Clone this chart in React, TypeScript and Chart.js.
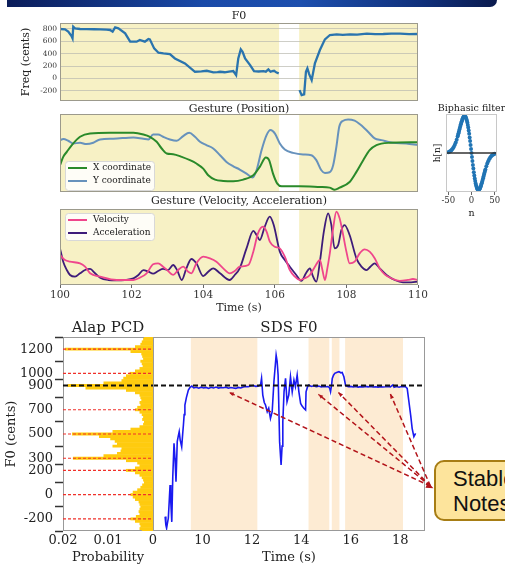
import React, { useEffect, useRef } from 'react';
import { Chart, registerables } from 'chart.js';
Chart.register(...registerables);

const SERIF = '"DejaVu Serif", "Liberation Serif", serif';
const SANS = '"Liberation Sans", Arial, sans-serif';
Chart.defaults.font.family = SERIF;
Chart.defaults.color = '#222';

type Pair = [number, number | null];

// ---------- Top figure: F0 (cents) over time ----------
const f0Top: Pair[] = [
  [100.00, 800], [100.14, 795], [100.23, 757], [100.30, 703], [100.33, 676], [100.35, 650], [100.37, 838],
  [100.42, 811], [100.56, 800], [100.75, 798], [100.95, 796], [101.12, 795], [101.30, 790], [101.40, 784],
  [101.47, 757], [101.54, 827], [101.63, 811], [101.82, 730], [101.96, 595], [102.14, 595], [102.23, 622],
  [102.37, 595], [102.47, 638], [102.51, 632], [102.63, 486], [102.75, 416], [102.89, 405], [103.07, 395],
  [103.21, 324], [103.49, 243], [103.77, 108], [103.95, 115], [104.10, 124], [104.20, 110], [104.28, 97],
  [104.40, 102], [104.47, 108], [104.60, 100], [104.72, 112], [104.84, 119], [104.92, 54], [104.98, 324],
  [105.05, 470], [105.10, 432], [105.17, 324], [105.31, 216], [105.42, 119], [105.55, 112], [105.68, 119],
  [105.75, 110], [105.82, 146], [105.88, 108], [105.93, 118], [105.98, 124], [106.05, 95], [106.11, 81],
  [106.40, null],
  [106.69, -189], [106.75, -270], [106.82, -259], [106.87, 108], [106.91, 162], [106.96, 70], [107.03, -27],
  [107.12, 243], [107.26, 459], [107.40, 632], [107.54, 703], [107.73, 714], [107.90, 706], [108.10, 714],
  [108.30, 710], [108.57, 724], [108.80, 716], [109.03, 719], [109.25, 726], [109.50, 724], [109.75, 716],
  [110.00, 719],
];
const f0TopTicks = [-200, 0, 200, 400, 600, 800];
const unvoicedGap = [106.12, 106.68];
const timeTicksTop = [100, 102, 104, 106, 108, 110];

// ---------- Gesture position (normalised) ----------
const xCoordinate: Pair[] = [
  [100.00, 0.343], [100.09, 0.451], [100.19, 0.515], [100.33, 0.601], [100.56, 0.708], [100.84, 0.751],
  [101.40, 0.760], [102.05, 0.760], [102.33, 0.738], [102.51, 0.708], [102.70, 0.644], [102.84, 0.558],
  [102.98, 0.494], [103.16, 0.485], [103.40, 0.451], [103.63, 0.408], [103.81, 0.365], [104.00, 0.300],
  [104.14, 0.215], [104.33, 0.159], [104.56, 0.142], [104.84, 0.137], [105.12, 0.159], [105.40, 0.215],
  [105.58, 0.322], [105.75, 0.442], [105.84, 0.408], [105.95, 0.236], [106.07, 0.107], [106.19, 0.073],
  [106.70, 0.073], [107.26, 0.064], [107.53, 0.056], [107.67, 0.030], [107.81, 0.056], [108.09, 0.129],
  [108.28, 0.258], [108.47, 0.408], [108.65, 0.536], [108.84, 0.601], [109.21, 0.631], [110.00, 0.639],
];
const yCoordinate: Pair[] = [
  [100.00, 0.665], [100.09, 0.678], [100.23, 0.657], [100.37, 0.622], [100.56, 0.631], [100.74, 0.614],
  [100.93, 0.631], [101.12, 0.674], [101.49, 0.682], [102.05, 0.700], [102.33, 0.682], [102.47, 0.674],
  [102.60, 0.738], [102.74, 0.738], [102.88, 0.708], [103.07, 0.674], [103.26, 0.657], [103.44, 0.717],
  [103.61, 0.760], [103.77, 0.708], [103.91, 0.644], [104.09, 0.601], [104.28, 0.558], [104.47, 0.472],
  [104.65, 0.386], [104.84, 0.330], [105.02, 0.288], [105.21, 0.236], [105.38, 0.185], [105.49, 0.279],
  [105.63, 0.536], [105.77, 0.730], [105.88, 0.794], [106.00, 0.751], [106.14, 0.622], [106.28, 0.545],
  [106.51, 0.502], [106.79, 0.481], [107.02, 0.472], [107.16, 0.408], [107.30, 0.279], [107.40, 0.245],
  [107.53, 0.253], [107.63, 0.343], [107.72, 0.579], [107.80, 0.837], [107.91, 0.914], [108.05, 0.931],
  [108.23, 0.914], [108.37, 0.871], [108.51, 0.815], [108.65, 0.751], [108.79, 0.687], [108.98, 0.665],
  [109.30, 0.631], [109.67, 0.622], [110.00, 0.601],
];

// ---------- Gesture velocity / acceleration (normalised) ----------
const velocity: Pair[] = [
  [100.00, 0.395], [100.14, 0.329], [100.28, 0.307], [100.56, 0.285], [100.70, 0.241], [100.84, 0.154],
  [101.12, 0.110], [101.58, 0.066], [102.05, 0.066], [102.23, 0.096], [102.42, 0.154], [102.60, 0.272],
  [102.74, 0.285], [102.88, 0.241], [103.02, 0.184], [103.16, 0.132], [103.30, 0.197], [103.44, 0.241],
  [103.58, 0.175], [103.67, 0.154], [103.81, 0.285], [104.00, 0.373], [104.19, 0.351], [104.37, 0.307],
  [104.56, 0.219], [104.74, 0.154], [104.88, 0.184], [105.02, 0.241], [105.26, 0.263], [105.40, 0.439],
  [105.53, 0.680], [105.67, 0.768], [105.77, 0.702], [105.86, 0.570], [106.00, 0.504], [106.14, 0.482],
  [106.28, 0.373], [106.42, 0.197], [106.56, 0.110], [106.70, 0.066], [106.84, 0.088], [106.98, 0.132],
  [107.12, 0.241], [107.26, 0.329], [107.33, 0.197], [107.40, 0.066], [107.46, 0.197], [107.53, 0.395],
  [107.63, 0.746], [107.72, 0.965], [107.81, 0.877], [107.91, 0.658], [108.00, 0.439], [108.09, 0.285],
  [108.23, 0.307], [108.37, 0.417], [108.51, 0.469], [108.65, 0.439], [108.79, 0.351], [108.93, 0.219],
  [109.07, 0.140], [109.26, 0.088], [109.49, 0.053], [109.72, 0.066], [109.86, 0.079], [110.00, 0.066],
];
const acceleration: Pair[] = [
  [100.00, 0.482], [100.09, 0.307], [100.19, 0.197], [100.28, 0.132], [100.42, 0.110], [100.56, 0.154],
  [100.70, 0.197], [100.84, 0.211], [100.98, 0.154], [101.12, 0.096], [101.35, 0.066], [101.58, 0.061],
  [101.81, 0.066], [102.05, 0.088], [102.19, 0.132], [102.33, 0.197], [102.47, 0.175], [102.60, 0.149],
  [102.74, 0.184], [102.88, 0.211], [103.02, 0.197], [103.16, 0.263], [103.27, 0.197], [103.40, 0.066],
  [103.53, 0.219], [103.67, 0.342], [103.81, 0.285], [104.00, 0.118], [104.14, 0.175], [104.28, 0.219],
  [104.47, 0.154], [104.74, 0.066], [104.88, 0.132], [105.02, 0.219], [105.21, 0.482], [105.40, 0.711],
  [105.49, 0.658], [105.58, 0.592], [105.72, 0.768], [105.86, 0.899], [105.97, 0.789], [106.14, 0.439],
  [106.28, 0.329], [106.42, 0.241], [106.60, 0.132], [106.74, 0.053], [106.87, 0.154], [106.98, 0.219],
  [107.07, 0.110], [107.16, 0.044], [107.26, 0.307], [107.37, 0.702], [107.49, 0.943], [107.58, 0.789],
  [107.67, 0.482], [107.77, 0.526], [107.86, 0.724], [107.95, 0.789], [108.09, 0.658], [108.28, 0.351],
  [108.42, 0.241], [108.56, 0.197], [108.67, 0.241], [108.79, 0.285], [108.93, 0.219], [109.12, 0.132],
  [109.35, 0.066], [109.58, 0.035], [109.81, 0.035], [110.00, 0.044],
];

// ---------- Biphasic filter taps ----------
const filterTaps: Pair[] = [
  [-50, 0.021], [-48, 0.032], [-46, 0.046], [-44, 0.065], [-42, 0.092], [-40, 0.126], [-38, 0.169],
  [-36, 0.222], [-34, 0.286], [-32, 0.361], [-30, 0.446], [-29, 0.492], [-28, 0.539], [-27, 0.587],
  [-26, 0.636], [-25, 0.685], [-24, 0.733], [-23, 0.781], [-22, 0.825], [-21, 0.866], [-20, 0.904],
  [-19, 0.936], [-18, 0.963], [-17, 0.983], [-16, 0.996], [-15, 1.0], [-14, 0.995], [-13, 0.982],
  [-12, 0.958], [-11, 0.924], [-10, 0.880], [-9, 0.826], [-8, 0.763], [-7, 0.690], [-6, 0.609],
  [-5, 0.520], [-4, 0.424], [-3, 0.323], [-2, 0.218], [-1, 0.110], [0, 0],
  [1, -0.110], [2, -0.218], [3, -0.323], [4, -0.424], [5, -0.520], [6, -0.609], [7, -0.690], [8, -0.763],
  [9, -0.826], [10, -0.880], [11, -0.924], [12, -0.958], [13, -0.982], [14, -0.995], [15, -1.0],
  [16, -0.996], [17, -0.983], [18, -0.963], [19, -0.936], [20, -0.904], [21, -0.866], [22, -0.825],
  [23, -0.781], [24, -0.733], [25, -0.685], [26, -0.636], [27, -0.587], [28, -0.539], [29, -0.492],
  [30, -0.446], [32, -0.361], [34, -0.286], [36, -0.222], [38, -0.169], [40, -0.126], [42, -0.092],
  [44, -0.065], [46, -0.046], [48, -0.032], [50, -0.021],
];
const filterTicks = [-50, 0, 50];

// ---------- Alap pitch-class distribution (cents, probability) ----------
const pcd: Pair[] = [
  [1300, 0.0020], [1280, 0.0022], [1260, 0.0025], [1240, 0.0028], [1220, 0.0040], [1200, 0.0196],
  [1180, 0.0050], [1160, 0.0026], [1140, 0.0024], [1120, 0.0022], [1100, 0.0028], [1080, 0.0025],
  [1060, 0.0023], [1040, 0.0030], [1020, 0.0040], [1000, 0.0052], [980, 0.0060], [960, 0.0066],
  [940, 0.0070], [920, 0.0110], [900, 0.0190], [880, 0.0150], [860, 0.0060], [840, 0.0040],
  [820, 0.0030], [800, 0.0028], [780, 0.0026], [760, 0.0030], [740, 0.0028], [720, 0.0035],
  [700, 0.0040], [680, 0.0030], [660, 0.0025], [640, 0.0022], [620, 0.0024], [600, 0.0020],
  [580, 0.0022], [560, 0.0030], [540, 0.0050], [520, 0.0090], [500, 0.0180], [480, 0.0120],
  [460, 0.0095], [440, 0.0085], [420, 0.0080], [400, 0.0090], [380, 0.0070], [360, 0.0072],
  [340, 0.0080], [320, 0.0110], [300, 0.0178], [280, 0.0060], [260, 0.0035], [240, 0.0030],
  [220, 0.0040], [200, 0.0060], [180, 0.0040], [160, 0.0030], [140, 0.0025], [120, 0.0022],
  [100, 0.0020], [80, 0.0024], [60, 0.0028], [40, 0.0035], [20, 0.0045], [0, 0.0050],
  [-20, 0.0045], [-40, 0.0040], [-60, 0.0032], [-80, 0.0030], [-100, 0.0028], [-120, 0.0030],
  [-140, 0.0032], [-160, 0.0030], [-180, 0.0038], [-200, 0.0050], [-220, 0.0040], [-240, 0.0030],
  [-260, 0.0028], [-280, 0.0030], [-300, 0.0025],
];
const pcdTicks = [-200, 0, 200, 300, 500, 700, 900, 1000, 1200];
const probTicks = [0.02, 0.01, 0];
const noteLines = [1200, 1000, 700, 500, 300, 200, 0, -200];
const tonicLine = 900;

// ---------- SDS F0 contour (seconds, cents) ----------
const sdsF0: Pair[] = [
  [8.49, -181], [8.52, -250], [8.55, -277], [8.58, -240], [8.62, -195], [8.66, -40], [8.69, 80], [8.72, -60],
  [8.76, -225], [8.80, 150], [8.85, 423], [8.89, 300], [8.93, 107], [8.96, 300], [8.98, 437], [9.02, 480],
  [9.06, 519], [9.10, 450], [9.16, 395], [9.20, 500], [9.23, 574], [9.26, 660], [9.29, 739], [9.35, 800],
  [9.43, 862], [9.50, 885], [9.57, 895], [9.65, 880], [9.75, 885], [9.85, 878], [9.95, 886], [10.05, 880],
  [10.15, 884], [10.25, 876], [10.35, 885], [10.45, 880], [10.55, 887], [10.65, 879], [10.75, 884],
  [10.85, 881], [10.95, 886], [11.05, 878], [11.15, 883], [11.25, 880], [11.35, 876], [11.45, 884],
  [11.55, 880], [11.65, 888], [11.75, 892], [11.85, 890], [11.95, 896], [12.05, 900], [12.15, 893],
  [12.25, 895], [12.30, 900], [12.35, 905], [12.39, 959], [12.44, 821], [12.50, 760], [12.55, 739],
  [12.62, 684], [12.68, 712], [12.75, 629], [12.82, 684], [12.89, 931], [12.98, 1151], [13.02, 1100],
  [13.06, 986], [13.12, 437], [13.18, 244], [13.22, 400], [13.25, 601], [13.30, 850], [13.36, 959],
  [13.42, 766], [13.49, 821], [13.56, 972], [13.63, 848], [13.70, 945], [13.76, 890], [13.83, 986],
  [13.90, 848], [13.97, 752], [14.03, 730], [14.10, 712], [14.17, 698], [14.19, 848], [14.25, 890],
  [14.30, 904], [14.40, 892], [14.50, 898], [14.60, 890], [14.70, 895], [14.80, 888], [14.90, 893],
  [15.00, 890], [15.08, 892], [15.14, 880], [15.18, 848], [15.22, 900], [15.25, 959], [15.30, 985],
  [15.35, 1000], [15.45, 1010], [15.52, 1014], [15.60, 1005], [15.65, 1008], [15.72, 972], [15.79, 898],
  [15.90, 890], [16.00, 893], [16.10, 888], [16.20, 892], [16.30, 887], [16.40, 891], [16.50, 888],
  [16.60, 893], [16.70, 889], [16.80, 892], [16.90, 888], [17.00, 890], [17.10, 887], [17.20, 891],
  [17.30, 888], [17.40, 890], [17.50, 893], [17.60, 888], [17.70, 905], [17.75, 885], [17.85, 892],
  [17.95, 886], [18.05, 892], [18.15, 890], [18.21, 890], [18.28, 876], [18.35, 766], [18.42, 656],
  [18.48, 547], [18.55, 478], [18.62, 505],
];
const sdsTicks = [10, 12, 14, 16, 18];
const stableRegions = [[9.53, 12.22], [14.29, 15.13], [15.23, 15.54], [15.77, 18.11]];
const arrowTargets = [[11.08, 843], [14.69, 827], [15.50, 843], [17.60, 830]];
const arrowTail = [19.22, 70];
const stableLabel = ['Stable', 'Notes'];

const pts = (arr: Pair[]) => arr.map(([x, y]) => ({ x, y }));
const fixedTicks = (vals: number[]) => (s: any) => { s.ticks = vals.map((v) => ({ value: v })); };
const plain = (v: any) => String(v);

function deco(cfg: any) {
  return {
    id: 'deco',
    beforeDraw(chart: any) {
      const { ctx, chartArea: a, scales } = chart;
      ctx.save();
      if (cfg.bg) {
        ctx.fillStyle = cfg.bg;
        ctx.fillRect(a.left, a.top, a.right - a.left, a.bottom - a.top);
      }
      (cfg.bands || []).forEach((b: number[]) => {
        const x0 = scales.x.getPixelForValue(b[0]);
        const x1 = scales.x.getPixelForValue(b[1]);
        ctx.fillStyle = cfg.bandColor;
        ctx.fillRect(x0, a.top, x1 - x0, a.bottom - a.top);
      });
      if (cfg.frame && cfg.frameBelow) {
        ctx.strokeStyle = cfg.frame;
        ctx.lineWidth = 1;
        ctx.strokeRect(a.left + 0.5, a.top + 0.5, a.right - a.left - 1, a.bottom - a.top - 1);
      }
      ctx.restore();
    },
    afterDatasetsDraw(chart: any) {
      const { ctx, chartArea: a, scales } = chart;
      ctx.save();
      (cfg.hlines || []).forEach((h: any) => {
        const y = scales.y.getPixelForValue(h.value);
        ctx.strokeStyle = h.color;
        ctx.lineWidth = h.width;
        ctx.setLineDash(h.dash || []);
        ctx.beginPath();
        ctx.moveTo(a.left, y);
        ctx.lineTo(a.right, y);
        ctx.stroke();
      });
      ctx.setLineDash([]);
      if (cfg.frame && !cfg.frameBelow) {
        ctx.strokeStyle = cfg.frame;
        ctx.lineWidth = 1;
        ctx.strokeRect(a.left + 0.5, a.top + 0.5, a.right - a.left - 1, a.bottom - a.top - 1);
      }
      if (cfg.legend) {
        const L = cfg.legend;
        const x0 = a.left + L.x;
        const y0 = a.top + L.y;
        ctx.fillStyle = 'rgba(255,255,255,0.85)';
        ctx.strokeStyle = '#d8d8d8';
        ctx.lineWidth = 1;
        ctx.beginPath();
        ctx.roundRect(x0 + 0.5, y0 + 0.5, L.w, L.h, 3);
        ctx.fill();
        ctx.stroke();
        chart.data.datasets.forEach((ds: any, i: number) => {
          const yy = a.top + L.rows[i];
          ctx.strokeStyle = ds.borderColor;
          ctx.lineWidth = 2;
          ctx.beginPath();
          ctx.moveTo(x0 + 3, yy);
          ctx.lineTo(x0 + 22, yy);
          ctx.stroke();
          ctx.fillStyle = '#222';
          ctx.font = L.font;
          ctx.textAlign = 'left';
          ctx.textBaseline = 'middle';
          ctx.fillText(ds.label, x0 + 28, yy);
        });
      }
      if (cfg.title) {
        const T = cfg.title;
        ctx.fillStyle = '#222';
        ctx.font = T.font;
        ctx.textAlign = 'center';
        ctx.textBaseline = 'middle';
        ctx.fillText(T.text, (a.left + a.right) / 2 + (T.dx || 0), a.top + T.dy);
      }
      if (cfg.ylabel) {
        const Y = cfg.ylabel;
        ctx.translate(a.left + Y.dx, (a.top + a.bottom) / 2);
        ctx.rotate(-Math.PI / 2);
        ctx.fillStyle = '#222';
        ctx.font = Y.font;
        ctx.textAlign = 'center';
        ctx.textBaseline = 'middle';
        ctx.fillText(Y.text, 0, 0);
        ctx.setTransform(1, 0, 0, 1, 0, 0);
      }
      if (cfg.arrows) {
        const xs = scales.x;
        const ys = scales.y;
        const tx = xs.getPixelForValue(arrowTail[0]);
        const ty = ys.getPixelForValue(arrowTail[1]);
        const col = '#b3141a';
        const head = (x: number, y: number, ang: number, size: number) => {
          ctx.setLineDash([]);
          ctx.fillStyle = col;
          ctx.beginPath();
          ctx.moveTo(x, y);
          ctx.lineTo(x - size * Math.cos(ang - 0.4), y - size * Math.sin(ang - 0.4));
          ctx.lineTo(x - size * Math.cos(ang + 0.4), y - size * Math.sin(ang + 0.4));
          ctx.closePath();
          ctx.fill();
        };
        arrowTargets.forEach(([t, c]) => {
          const x = xs.getPixelForValue(t);
          const y = ys.getPixelForValue(c);
          ctx.strokeStyle = col;
          ctx.lineWidth = 1.5;
          ctx.setLineDash([5, 3]);
          ctx.beginPath();
          ctx.moveTo(tx, ty);
          ctx.lineTo(x, y);
          ctx.stroke();
          head(x, y, Math.atan2(y - ty, x - tx), 5);
        });
        const [t0, c0] = arrowTargets[0];
        const ang = Math.atan2(ty - ys.getPixelForValue(c0), tx - xs.getPixelForValue(t0));
        head(tx + 3, ty + 2, ang, 8);
      }
      ctx.restore();
    },
  };
}

const baseOptions = (padding: any) => ({
  animation: false,
  responsive: false,
  maintainAspectRatio: false,
  events: [],
  layout: { padding },
  plugins: { legend: { display: false }, tooltip: { enabled: false }, title: { display: false } },
});

const KHAKI = '#f7f1c5';
const TOPFRAME = '#9c9a8c';

function buildF0Top(): any {
  return {
    type: 'line',
    data: { datasets: [{ data: pts(f0Top), borderColor: '#2a74ae', borderWidth: 2.3, pointRadius: 0, spanGaps: false }] },
    options: {
      ...baseOptions({ left: 0, right: 12, top: 23, bottom: 11 }),
      scales: {
        x: { type: 'linear', min: 100, max: 110, display: false },
        y: {
          type: 'linear', min: -365, max: 897,
          afterFit: (s: any) => { s.width = 60; },
          afterBuildTicks: fixedTicks(f0TopTicks),
          grid: { color: 'rgba(185,185,175,0.7)', drawTicks: false, lineWidth: 1 },
          border: { display: false },
          ticks: { font: { family: SERIF, size: 7.5 }, color: '#333', padding: 3, autoSkip: false, callback: plain },
          title: { display: true, text: 'Freq (cents)', font: { family: SERIF, size: 11 }, color: '#222', padding: { top: 20, bottom: 0 } },
        },
      },
    },
    plugins: [deco({ bg: KHAKI, bands: [unvoicedGap], bandColor: '#ffffff', frame: TOPFRAME, title: { text: 'F0', dy: -7, font: `11px ${SERIF}` } })],
  };
}

function buildPosition(): any {
  return {
    type: 'line',
    data: {
      datasets: [
        { label: 'X coordinate', data: pts(xCoordinate), borderColor: '#2a8a2a', borderWidth: 2, pointRadius: 0, cubicInterpolationMode: 'monotone' },
        { label: 'Y coordinate', data: pts(yCoordinate), borderColor: '#6792bc', borderWidth: 2, pointRadius: 0, cubicInterpolationMode: 'monotone' },
      ],
    },
    options: {
      ...baseOptions({ left: 60, right: 12, top: 14, bottom: 8 }),
      scales: {
        x: { type: 'linear', min: 100, max: 110, display: false },
        y: { type: 'linear', min: 0, max: 1, display: false },
      },
    },
    plugins: [deco({
      bg: KHAKI, bands: [unvoicedGap], bandColor: '#ffffff', frame: TOPFRAME,
      title: { text: 'Gesture (Position)', dy: -5, font: `11px ${SERIF}` },
      legend: { x: 5, y: 47, w: 89, h: 29, rows: [54, 67], font: `9px ${SERIF}` },
    })],
  };
}

function buildVelocity(): any {
  return {
    type: 'line',
    data: {
      datasets: [
        { label: 'Velocity', data: pts(velocity), borderColor: '#ef468c', borderWidth: 1.8, pointRadius: 0, cubicInterpolationMode: 'monotone' },
        { label: 'Acceleration', data: pts(acceleration), borderColor: '#3e1c7a', borderWidth: 1.8, pointRadius: 0, cubicInterpolationMode: 'monotone' },
      ],
    },
    options: {
      ...baseOptions({ left: 60, right: 12, top: 14, bottom: 0 }),
      scales: {
        x: {
          type: 'linear', min: 100, max: 110,
          afterFit: (s: any) => { s.height = 35; },
          afterBuildTicks: fixedTicks(timeTicksTop),
          grid: { display: true, drawOnChartArea: false, drawTicks: true, tickLength: 3, tickColor: '#666' },
          border: { display: false },
          ticks: { font: { family: SERIF, size: 10.5 }, color: '#333', padding: 1, autoSkip: false, maxRotation: 0, callback: plain },
          title: { display: true, text: 'Time (s)', font: { family: SERIF, size: 11 }, color: '#222', padding: { top: 0, bottom: 5.5 } },
        },
        y: { type: 'linear', min: 0, max: 1, display: false },
      },
    },
    plugins: [deco({
      bg: KHAKI, bands: [unvoicedGap], bandColor: '#ffffff', frame: TOPFRAME,
      title: { text: 'Gesture (Velocity, Acceleration)', dy: -8, font: `11px ${SERIF}` },
      legend: { x: 5, y: 4, w: 89, h: 27, rows: [11, 24], font: `9px ${SERIF}` },
    })],
  };
}

function buildFilter(): any {
  return {
    type: 'line',
    data: { datasets: [{ data: pts(filterTaps), showLine: false, pointRadius: 2, pointBorderWidth: 0, pointBackgroundColor: '#2074b4' }] },
    options: {
      ...baseOptions({ left: 26, right: 8, top: 14, bottom: 0 }),
      scales: {
        x: {
          type: 'linear', min: -55, max: 55,
          afterFit: (s: any) => { s.height = 28; },
          afterBuildTicks: fixedTicks(filterTicks),
          grid: { display: true, drawOnChartArea: false, drawTicks: true, tickLength: 3, tickColor: '#666' },
          border: { display: false },
          ticks: { font: { family: SERIF, size: 8.5 }, color: '#333', padding: 1, autoSkip: false, maxRotation: 0, callback: plain },
          title: { display: true, text: 'n', font: { family: SERIF, size: 9.5 }, color: '#222', padding: { top: 0, bottom: 1 } },
        },
        y: { type: 'linear', min: -1.06, max: 1.06, display: false },
      },
    },
    plugins: [deco({
      frame: '#c8c8c8',
      hlines: [{ value: 0, color: '#333', width: 1.5 }],
      title: { text: 'Biphasic filter', dy: -5, font: `9.5px ${SERIF}` },
      ylabel: { text: 'h[n]', dx: -8, font: `9px ${SERIF}` },
    })],
  };
}

function buildPcd(): any {
  return {
    type: 'bar',
    data: { datasets: [{ data: pcd.map(([c, p]) => ({ x: p, y: c })), backgroundColor: '#ffcb0f', borderWidth: 0, barPercentage: 1.2, categoryPercentage: 1 }] },
    options: {
      ...baseOptions({ left: 0, right: 7, top: 22, bottom: 0 }),
      indexAxis: 'y',
      scales: {
        x: {
          type: 'linear', min: 0, max: 0.02, reverse: true,
          afterFit: (s: any) => { s.height = 34; },
          afterBuildTicks: fixedTicks(probTicks),
          grid: { display: false, drawTicks: false },
          border: { display: false },
          ticks: { font: { family: SERIF, size: 13 }, color: '#222', padding: 2, autoSkip: false, maxRotation: 0, callback: (v: any) => (v === 0 ? '0' : Number(v).toFixed(2)) },
          title: { display: true, text: 'Probability', font: { family: SERIF, size: 13 }, color: '#222', padding: { top: 0, bottom: 0 } },
        },
        y: {
          type: 'linear', min: -300, max: 1300, offset: false,
          afterFit: (s: any) => { s.width = 63; },
          afterBuildTicks: fixedTicks(pcdTicks),
          grid: { display: true, drawOnChartArea: false, drawTicks: true, tickLength: 8, tickColor: '#333', tickWidth: 1.5 },
          border: { display: false },
          ticks: { font: { family: SERIF, size: 13 }, color: '#222', padding: 2, autoSkip: false, callback: plain },
          title: { display: true, text: 'F0 (cents)', font: { family: SERIF, size: 13 }, color: '#222', padding: { top: 4, bottom: 0 } },
        },
      },
    },
    plugins: [deco({
      frame: '#999', frameBelow: true,
      hlines: [
        ...noteLines.map((v) => ({ value: v, color: '#f0302a', width: 1.2, dash: [3, 2] })),
        { value: tonicLine, color: '#111', width: 1.8, dash: [5, 3] },
      ],
      title: { text: 'Alap PCD', dy: -9, font: `15px ${SERIF}` },
    })],
  };
}

function buildSds(): any {
  return {
    type: 'line',
    data: { datasets: [{ data: pts(sdsF0), borderColor: '#1a1af0', borderWidth: 1.6, pointRadius: 0 }] },
    options: {
      ...baseOptions({ left: 3, right: 80, top: 22, bottom: 0 }),
      scales: {
        x: {
          type: 'linear', min: 8, max: 19,
          afterFit: (s: any) => { s.height = 34; },
          afterBuildTicks: fixedTicks(sdsTicks),
          grid: { display: false, drawTicks: false },
          border: { display: false },
          ticks: { font: { family: SERIF, size: 13 }, color: '#222', padding: 2, autoSkip: false, maxRotation: 0, callback: plain },
          title: { display: true, text: 'Time (s)', font: { family: SERIF, size: 13 }, color: '#222', padding: { top: 0, bottom: 0 } },
        },
        y: { type: 'linear', min: -300, max: 1300, display: false },
      },
    },
    plugins: [deco({
      bands: stableRegions, bandColor: '#fdebd3', frame: '#999',
      hlines: [{ value: tonicLine, color: '#111', width: 1.8, dash: [5, 3] }],
      title: { text: 'SDS F0', dy: -9, font: `15px ${SERIF}` },
      arrows: true,
    })],
  };
}

function ChartBox({ left, top, width, height, build }: { left: number; top: number; width: number; height: number; build: () => any }) {
  const ref = useRef<HTMLCanvasElement>(null);
  useEffect(() => {
    const chart = new Chart(ref.current as HTMLCanvasElement, build());
    return () => chart.destroy();
  }, []);
  return <canvas ref={ref} width={width} height={height} style={{ position: 'absolute', left, top, width, height }} />;
}

export default function App() {
  return (
    <div style={{ position: 'absolute', left: 0, top: 0, width: 505, height: 565, overflow: 'hidden', background: '#fff' }}>
      <div style={{ position: 'absolute', left: 7, top: 0, width: 490, height: 7, borderBottomRightRadius: 12, background: 'linear-gradient(90deg, #0b1d5a 0%, #1a4aa8 40%, #1d4fae 60%, #10307a 85%, #0a1a4e 100%)' }} />
      <ChartBox left={0} top={0} width={430} height={112} build={buildF0Top} />
      <ChartBox left={0} top={100} width={430} height={100} build={buildPosition} />
      <ChartBox left={0} top={195} width={430} height={125} build={buildVelocity} />
      <ChartBox left={420} top={100} width={85} height={120} build={buildFilter} />
      <ChartBox left={0} top={315} width={160} height={250} build={buildPcd} />
      <ChartBox left={150} top={315} width={355} height={250} build={buildSds} />
      <div style={{ position: 'absolute', left: 434, top: 460, width: 110, height: 61, boxSizing: 'border-box', background: '#fde49c', border: '2px solid #a77d14', borderRadius: 10, fontFamily: SANS, fontSize: 22, lineHeight: '25px', paddingLeft: 17, paddingTop: 4, color: '#111', whiteSpace: 'nowrap' }}>
        {stableLabel[0]}<br />{stableLabel[1]}
      </div>
    </div>
  );
}
